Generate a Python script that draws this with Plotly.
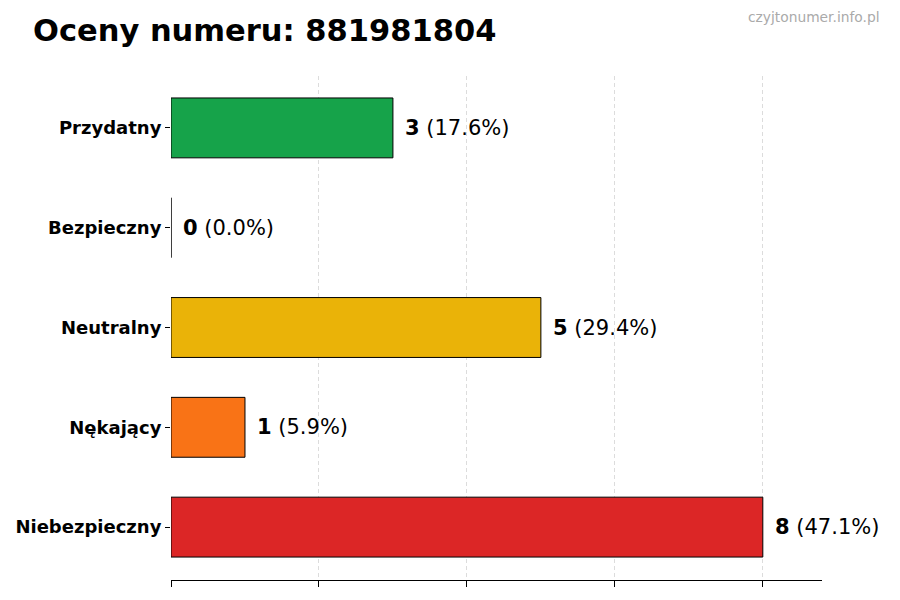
import plotly.graph_objects as go

categories = ["Niebezpieczny", "Nękający", "Neutralny", "Bezpieczny", "Przydatny"]
counts = [8, 1, 5, 0, 3]
percents = ["47.1%", "5.9%", "29.4%", "0.0%", "17.6%"]
colors = ["#dc2626", "#f97316", "#eab308", "#22c55e", "#16a34a"]

font = "DejaVu Sans"

# page body has an 8px offset, so the figure is laid out 8px up/left
L, R, T, B = 163, 86, 68, 28
plot_w = 900 - L - R

fig = go.Figure()
fig.add_trace(go.Bar(
    y=categories, x=counts, orientation="h", width=0.6,
    marker=dict(color=colors, line=dict(color="black", width=1)),
    hoverinfo="skip", showlegend=False,
))

# value labels to the right of each bar
for c, n, p in zip(categories, counts, percents):
    fig.add_annotation(
        x=n, y=c, xref="x", yref="y", xanchor="left", yanchor="middle",
        xshift=10, showarrow=False,
        text="<b>%d</b> (%s)" % (n, p),
        font=dict(family=font, size=21, color="black"),
    )

fig.add_annotation(
    x=(874 - L) / plot_w, y=1, xref="paper", yref="paper",
    xanchor="right", yanchor="middle", yshift=T - 9, showarrow=False,
    text="czyjtonumer.info.pl",
    font=dict(family=font, size=13.8, color="#aaaaaa"),
)

fig.update_layout(
    width=900, height=600,
    margin=dict(l=L, r=R, t=T, b=B),
    paper_bgcolor="white", plot_bgcolor="white",
    font=dict(family=font, color="black"),
    title=dict(
        text="<b>Oceny numeru: 881981804</b>",
        x=25 / 900, xanchor="left", xref="container",
        y=1 - 22 / 600, yanchor="middle", yref="container",
        font=dict(family=font, size=30.5, color="black"),
    ),
    xaxis=dict(
        range=[0, 8.8], tickvals=[0, 2, 4, 6, 8], showticklabels=False,
        ticks="outside", ticklen=6, tickcolor="black",
        showline=True, linecolor="black", linewidth=1,
        showgrid=True, gridcolor="#dcdcdc", griddash="4px,3px", gridwidth=0.8,
        zeroline=False, automargin=False,
    ),
    yaxis=dict(
        categoryorder="array", categoryarray=categories,
        range=[-0.53, 4.52],
        ticks="outside", ticklen=5, tickcolor="black",
        showline=False, showgrid=False, zeroline=False, automargin=False,
        tickfont=dict(family=font, size=18, weight="bold", color="black"),
    ),
)

fig.write_html("out.html")
